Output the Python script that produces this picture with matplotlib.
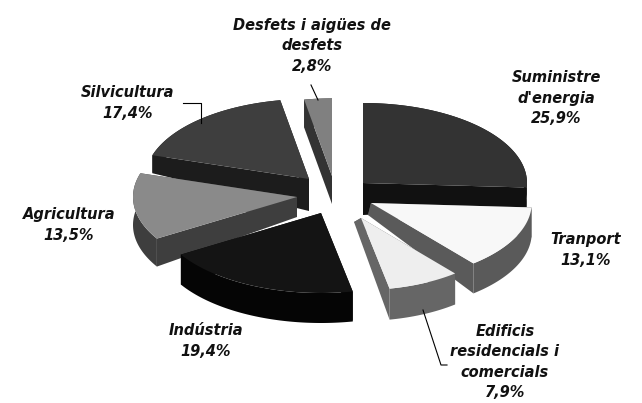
import numpy as np
import matplotlib
matplotlib.use("Agg")
import matplotlib.pyplot as plt

labels = ["Suministre\nd'energia\n25,9%", "Tranport\n13,1%", "Edificis\nresidencials i\ncomercials\n7,9%",
          "Indústria\n19,4%", "Agricultura\n13,5%", "Silvicultura\n17,4%", "Desfets i aigües de\ndesfets\n2,8%"]
valors = [25.9, 13.1, 7.9, 19.4, 13.5, 17.4, 2.8]
colors_top = ["#333333", "#f8f8f8", "#eeeeee", "#141414", "#8a8a8a", "#3e3e3e", "#808080"]
colors_side = ["#111111", "#5a5a5a", "#666666", "#050505", "#3e3e3e", "#1c1c1c", "#333333"]
# apex of every slice, pixels
desp = [(363, 183), (371, 203), (361, 218), (321, 213), (297, 197), (309, 179), (332, 176)]
escala = [1.0, 0.98, 0.9, 1.0, 1.0, 1.0, 0.97]
# wall height at the rim and at the apex, x shift of the lower apex
h_vora = [20, 30, 31, 30, 28, 18, 28]
h_centre = [32, 12, 4, 30, 20, 32, 28]
dx_centre = [0, -3, -7, 0, 0, 0, 0]
pos_text = [(556, 98), (586, 250), (505, 362), (206, 341), (69, 225), (128, 103), (312, 46)]

rx, ry = 164, 80

fig = plt.figure(figsize=(6.42, 4.03), dpi=100)
ax = fig.add_axes([0, 0, 1, 1])
ax.set_xlim(0, 642)
ax.set_ylim(403, 0)
ax.axis("off")

angles = 90 - np.cumsum([0] + valors) * 3.6 * 100 / sum(valors)

# back to front
for z, i in enumerate([6, 5, 0, 4, 1, 2, 3]):
    cx, cy = desp[i]
    t = np.radians(np.linspace(angles[i], angles[i + 1], 80))
    x = cx + rx * escala[i] * np.cos(t)
    y = cy - ry * escala[i] * np.sin(t)
    h = h_vora[i]
    hc = h_centre[i]
    bx = cx + dx_centre[i]
    # walls
    ax.fill(np.r_[x, x[::-1]], np.r_[y, y[::-1] + h], color=colors_side[i], lw=0, zorder=z + 1)
    ax.fill([cx, x[0], x[0], bx], [cy, y[0], y[0] + h, cy + hc], color=colors_side[i], lw=0, zorder=z + 1)
    ax.fill([cx, x[-1], x[-1], bx], [cy, y[-1], y[-1] + h, cy + hc], color=colors_side[i], lw=0, zorder=z + 1)
    ax.fill(np.r_[cx, x], np.r_[cy, y], color=colors_top[i], lw=0, zorder=z + 1.5)

for s, (tx, ty) in zip(labels, pos_text):
    ax.text(tx, ty, s, ha="center", va="center", fontsize=10.5, style="italic", weight="bold",
            family="DejaVu Sans", linespacing=1.45, color="#111111")

# leader lines
ax.plot([183, 201, 201], [103, 103, 123], color="k", lw=0.8, zorder=20)
ax.plot([311, 318], [85, 100], color="k", lw=0.8, zorder=20)
ax.plot([423, 441, 447], [310, 365, 365], color="k", lw=0.8, zorder=20)

fig.savefig("out.png", dpi=100)
